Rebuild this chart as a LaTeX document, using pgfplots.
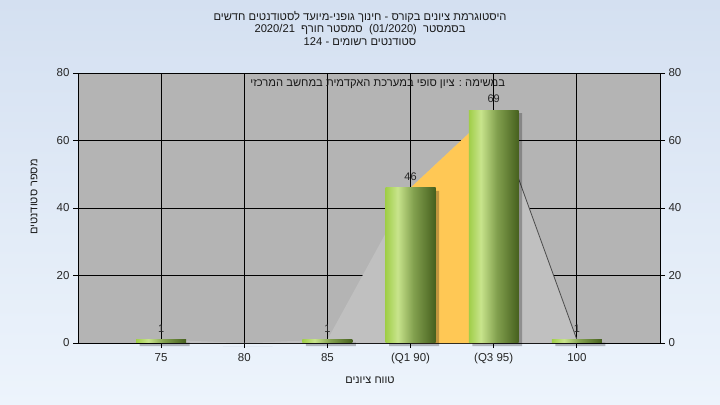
\documentclass[border=0pt]{standalone}
\usepackage{pgfplots}
\pgfplotsset{compat=1.18}
\usepackage{fontspec}
\setmainfont{Liberation Sans}
\newfontfamily\heb[Script=Hebrew]{Liberation Sans}
\TeXXeTstate=1
\definecolor{bgtop}{RGB}{212,224,241}
\definecolor{bgbot}{RGB}{237,244,252}
\definecolor{plotgray}{RGB}{180,180,180}
\definecolor{areagray}{RGB}{192,192,192}
\definecolor{areaorange}{RGB}{255,200,85}
\definecolor{ga}{RGB}{160,206,72}
\definecolor{gb}{RGB}{200,228,140}
\definecolor{gc}{RGB}{130,160,78}
\definecolor{gd}{RGB}{70,96,30}
\pgfdeclarehorizontalshading{barshade}{100bp}{color(0bp)=(ga); color(25bp)=(ga); color(37bp)=(gb); color(53bp)=(gc); color(75bp)=(gd); color(100bp)=(gd)}
\pgfplotsset{gbar/.style={ybar, bar width=0.6, bar shift=0pt, draw=none, shading=barshade, forget plot}}
\begin{document}
\begin{tikzpicture}
\shade[top color=bgtop, bottom color=bgbot] (0bp,0bp) rectangle (720bp,405bp);
\begin{axis}[
  at={(78bp,62bp)}, anchor=south west,
  scale only axis, width=582bp, height=270bp,
  xmin=-1, xmax=6, ymin=0, ymax=80,
  xtick={0,...,5},
  xticklabels={75,80,85,{(Q1 90)},{(Q3 95)},100},
  ytick={0,20,...,80},
  ytick pos=left, xtick pos=bottom,
  tick align=outside,
  major tick length=5bp,
  grid=major,
  grid style={black, line width=0.8bp},
  axis line style={black, line width=0.8bp},
  major tick style={black, line width=0.8bp},
  axis background/.style={fill=plotgray},
  ticklabel style={font=\fontsize{11.5bp}{13bp}\selectfont, text=black!85},
  xticklabel style={yshift=-2bp},
  /pgf/number format/assume math mode=true,
  clip=false,
]
% frequency polygon area
\addplot[fill=areagray, draw=none] coordinates {(0,1) (1,0) (2,1) (3,46) (4,69) (5,1)} \closedcycle;
% interquartile area
\addplot[fill=areaorange, draw=none] coordinates {(3,46) (4,69)} \closedcycle;
\addplot[draw=black!70, line width=0.8bp] coordinates {(4,69) (5,1)};
% shadows
\addplot[ybar, bar width=0.6, bar shift=0pt, fill=black, fill opacity=0.25, draw=none, xshift=3.5bp, yshift=-3bp, forget plot]
  coordinates {(0,1) (1,0) (2,1) (3,46) (4,69) (5,1)};
% bars (one plot per bar so each bar gets its own shading)
\addplot[gbar] coordinates {(0,1)};
\addplot[gbar] coordinates {(2,1)};
\addplot[gbar] coordinates {(3,46)};
\addplot[gbar] coordinates {(4,69)};
\addplot[gbar] coordinates {(5,1)};
% value labels
\addplot[draw=none, mark=none, nodes near coords, point meta=y,
  nodes near coords style={font=\fontsize{11bp}{13bp}\selectfont, text=black!85, anchor=south, yshift=4bp}]
  coordinates {(0,1) (2,1) (3,46) (4,69) (5,1)};
\node[font=\heb\fontsize{11.2bp}{12bp}\selectfont, text=black!90] at (rel axis cs:0.515,0.958)
  {\beginR במשימה : ציון סופי במערכת האקדמית במחשב המרכזי\endR};
\end{axis}
\begin{axis}[
  at={(78bp,62bp)}, anchor=south west,
  scale only axis, width=582bp, height=270bp,
  xmin=-1, xmax=6, ymin=0, ymax=80,
  axis x line=none, axis y line*=right,
  ytick={0,20,...,80},
  tick align=outside,
  major tick length=5bp,
  axis line style={black, line width=0.8bp},
  major tick style={black, line width=0.8bp},
  ticklabel style={font=\fontsize{11.5bp}{13bp}\selectfont, text=black!85},
  /pgf/number format/assume math mode=true,
]
\addplot[draw=none] coordinates {(0,0)};
\end{axis}
\node[font=\heb\fontsize{11.2bp}{12.5bp}\selectfont, align=center, anchor=north, inner sep=0pt, text=black!90] at (360bp,394bp)
  {\beginR היסטוגרמת ציונים בקורס - חינוך גופני-מיועד לסטודנטים חדשים\endR\\
   \beginR בסמסטר\ \ \beginL(01/2020)\endL{}\ \ סמסטר חורף\ \ \beginL2020/21\endL\endR\\
   \beginR סטודנטים רשומים - \beginL124\endL\endR};
\node[font=\heb\fontsize{11bp}{12bp}\selectfont, rotate=90, text=black!90] at (34bp,208bp)
  {\beginR מספר סטודנטים\endR};
\node[font=\heb\fontsize{11bp}{12bp}\selectfont, text=black!90] at (370bp,25bp)
  {\beginR טווח ציונים\endR};
\end{tikzpicture}
\end{document}
